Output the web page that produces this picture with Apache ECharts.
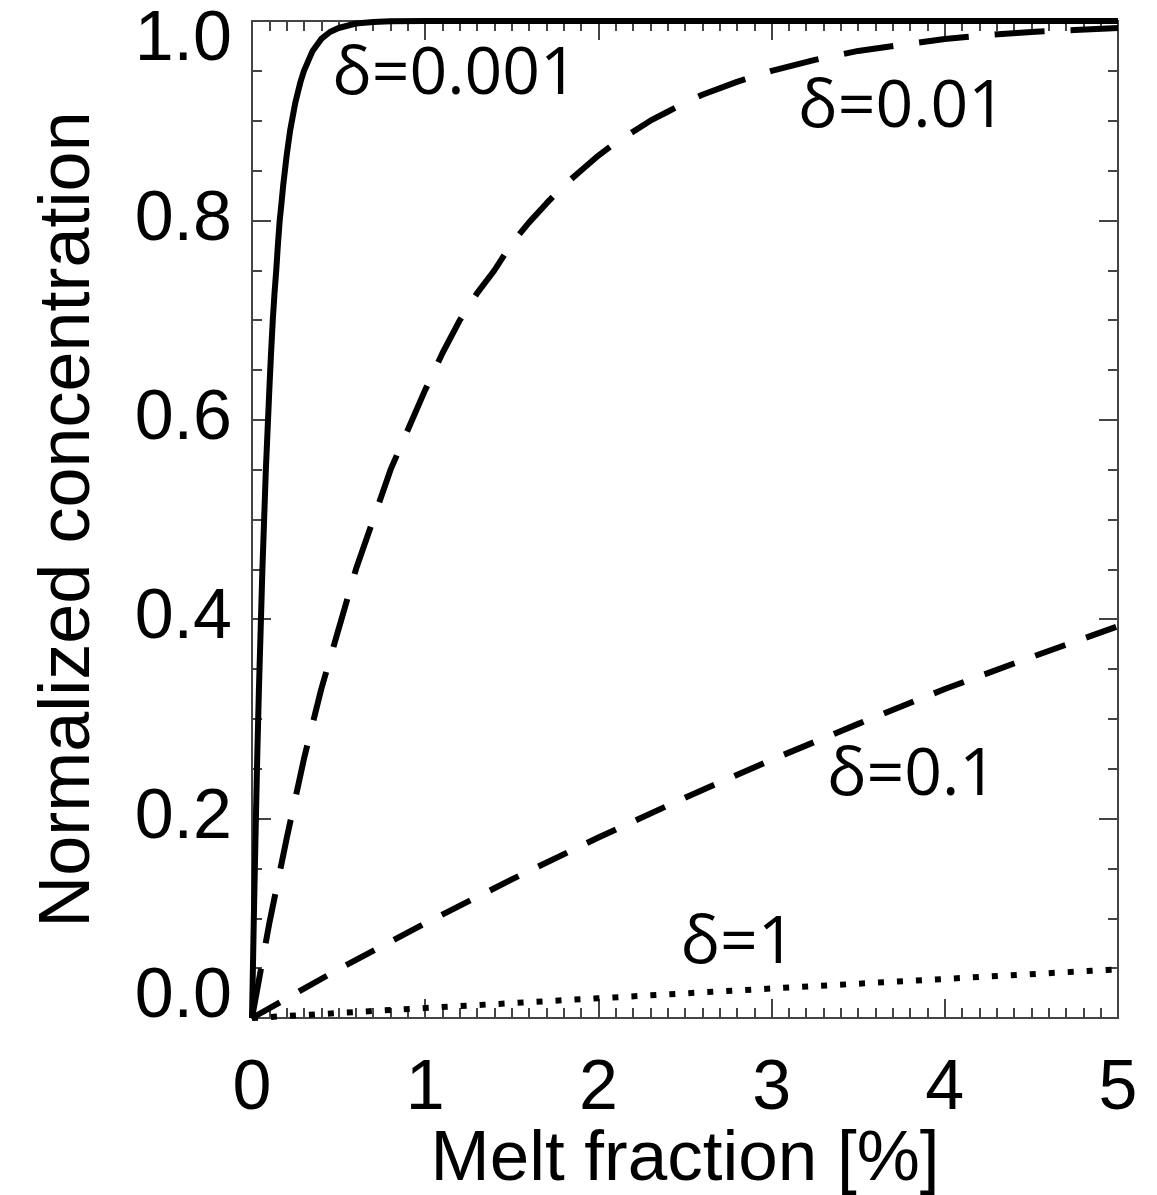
<!DOCTYPE html>
<html>
<head>
<meta charset="utf-8">
<script src="https://cdn.jsdelivr.net/npm/echarts@6/dist/echarts.min.js"></script>
<style>html,body{margin:0;padding:0;background:#fff}#c{width:1157px;height:1195px}</style>
</head>
<body>
<div id="c"></div>
<script>
// Melt fraction [%] vs normalized concentration
var curve0001 = [[0,0],[0.01,0.095],[0.02,0.18],[0.03,0.26],[0.04,0.33],[0.05,0.39],[0.06,0.45],[0.07,0.50],[0.08,0.55],[0.09,0.59],[0.10,0.63],[0.11,0.667],[0.12,0.70],[0.13,0.727],[0.14,0.75],[0.15,0.777],[0.16,0.80],[0.17,0.817],[0.18,0.835],[0.19,0.85],[0.20,0.865],[0.22,0.89],[0.25,0.918],[0.28,0.939],[0.30,0.95],[0.35,0.97],[0.40,0.982],[0.45,0.989],[0.50,0.993],[0.60,0.9975],[0.70,0.999],[0.80,0.9997],[1.0,1.0],[2,1],[3,1],[4,1],[5,1]];
var curve001 = [[0,0],[0.1,0.095],[0.2,0.18],[0.3,0.26],[0.4,0.33],[0.5,0.39],[0.6,0.45],[0.7,0.50],[0.8,0.55],[0.9,0.59],[1.0,0.63],[1.1,0.667],[1.2,0.70],[1.3,0.727],[1.4,0.75],[1.5,0.777],[1.6,0.798],[1.7,0.817],[1.8,0.835],[1.9,0.85],[2.0,0.865],[2.1,0.878],[2.2,0.889],[2.3,0.90],[2.4,0.909],[2.5,0.918],[2.6,0.926],[2.8,0.939],[3.0,0.95],[3.25,0.961],[3.5,0.97],[3.75,0.976],[4.0,0.982],[4.25,0.986],[4.5,0.989],[4.75,0.991],[5.0,0.993]];
var curve01 = [[0,0],[0.5,0.049],[1,0.095],[1.5,0.139],[2,0.181],[2.5,0.221],[3,0.259],[3.5,0.295],[4,0.33],[4.5,0.362],[5,0.393]];
var curve1 = [[0,0],[1,0.01],[2,0.0198],[3,0.0296],[4,0.0392],[5,0.0488]];
var curveLabels = ['δ=0.001','δ=0.01','δ=0.1','δ=1'];
var xTitle = 'Melt fraction [%]';
var yTitle = 'Normalized concentration';

var chart = echarts.init(document.getElementById('c'), null, {renderer:'canvas'});
var axisFont = 'Liberation Sans';
var lineCol = '#444';
function xAx(pos, show){
  return {type:'value', position:pos, min:0, max:5, interval:1,
    axisLine:{show:true, onZero:false, lineStyle:{color:lineCol,width:2}},
    axisTick:{show:true, inside:true, length:19, lineStyle:{color:lineCol,width:2}},
    minorTick:{show:true, splitNumber:10, length:10, lineStyle:{color:lineCol,width:2}},
    splitLine:{show:false},
    axisLabel:{show:show, fontFamily:axisFont, fontSize:70, color:'#000', margin:37},
    name: show ? xTitle : '', nameLocation:'middle', nameGap:107, nameMoveOverlap:false,
    nameTextStyle:{fontFamily:axisFont, fontSize:71, color:'#000'}
  };
}
function yAx(pos, show){
  return {type:'value', position:pos, min:0, max:1, interval:0.2,
    axisLine:{show:true, onZero:false, lineStyle:{color:lineCol,width:2}},
    axisTick:{show:true, inside:true, length:19, lineStyle:{color:lineCol,width:2}},
    minorTick:{show:true, splitNumber:4, length:10, lineStyle:{color:lineCol,width:2}},
    splitLine:{show:false},
    axisLabel:{show:show, fontFamily:axisFont, fontSize:70, color:'#000', margin:20, lineHeight:40,
      formatter:function(v){return v.toFixed(1);},
      verticalAlignMinLabel:'bottom', verticalAlignMaxLabel:'top'},
    name: show ? yTitle : '', nameLocation:'middle', nameGap:147, nameMoveOverlap:false,
    nameTextStyle:{fontFamily:axisFont, fontSize:72, color:'#000'}
  };
}
function ser(data, type, w){
  return {type:'line', data:data, xAxisIndex:0, yAxisIndex:0, showSymbol:false, symbol:'none',
    clip:false, animation:false,
    lineStyle:{color:'#000', width:w, type:type, dashOffset:0, cap:'butt', join:'round'}};
}
var annFont = 'Open Sans';
function ann(txt, cx, cy){
  return {type:'text', x:cx, y:cy, style:{text:txt, fontFamily:annFont, fontSize:66, fill:'#000', align:'center', verticalAlign:'middle'}};
}
chart.setOption({
  animation:false,
  backgroundColor:'#fff',
  grid:{left:252, right:39, top:21, bottom:177, containLabel:false, outerBoundsMode:'none'},
  xAxis:[xAx('bottom', true), xAx('top', false)],
  yAxis:[yAx('left', true), yAx('right', false)],
  series:[
    ser(curve0001, 'solid', 6),
    ser(curve001, [50,26], 6),
    ser(curve01, [32,22], 6),
    ser(curve1, [6,13], 6)
  ],
  graphic:[
    ann(curveLabels[0], 455, 75),
    ann(curveLabels[1], 902, 108),
    ann(curveLabels[2], 912, 776),
    ann(curveLabels[3], 738, 944)
  ]
});
</script>
</body>
</html>
